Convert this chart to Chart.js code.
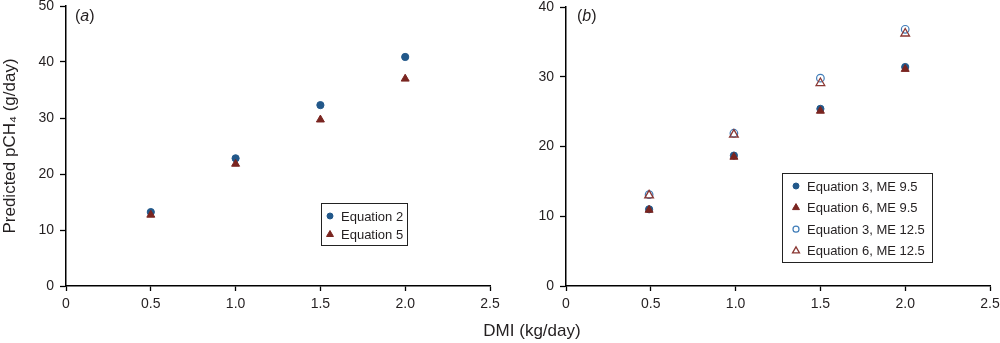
<!DOCTYPE html>
<html>
<head>
<meta charset="utf-8">
<script src="https://cdn.jsdelivr.net/npm/chart.js@4/dist/chart.umd.min.js"></script>
<style>
  body { margin: 0; background: #fff; }
  #wrap { position: relative; width: 1000px; height: 343px; font-family: "Liberation Sans", Arial, sans-serif; color: #231f20; }
  canvas { position: absolute; top: 0; }
  .lbl { position: absolute; font-size: 16px; }
  #xtitle { position: absolute; left: 0; width: 1064px; top: 321px; text-align: center; font-size: 17px; }
</style>
</head>
<body>
<div id="wrap">
  <canvas id="chartA" width="500" height="343" style="left:0"></canvas>
  <canvas id="chartB" width="500" height="343" style="left:500px"></canvas>
  <div class="lbl" style="left:75px; top:7px">(<i>a</i>)</div>
  <div class="lbl" style="left:577px; top:7px">(<i>b</i>)</div>
  <div id="xtitle">DMI (kg/day)</div>
</div>
<script>
// x values (DMI, kg/day)
var dmiA = [0.5, 1.0, 1.5, 2.0];
var dmiB = [0.49, 0.99, 1.5, 2.0];

// panel (a)
var eq2 = [13.2, 22.8, 32.3, 40.9];
var eq5 = [12.7, 21.8, 29.7, 37.0];

// panel (b)
var eq3Me95 = [11.0, 18.7, 25.4, 31.4];
var eq6Me95 = [10.9, 18.5, 25.1, 31.1];
var eq3Me125 = [13.1, 21.9, 29.8, 36.8];
var eq6Me125 = [13.0, 21.7, 29.1, 36.2];

// ticks
var xTickValues = [0, 0.5, 1.0, 1.5, 2.0, 2.5];
var xTickLabels = ["0", "0.5", "1.0", "1.5", "2.0", "2.5"];
var yTickValuesA = [0, 10, 20, 30, 40, 50];
var yTickLabelsA = ["0", "10", "20", "30", "40", "50"];
var yTickValuesB = [0, 10, 20, 30, 40];
var yTickLabelsB = ["0", "10", "20", "30", "40"];

var BLUE = "#22588a";
var RED = "#7a2520";
var BLUE_OPEN = "#3f7cb8";
var RED_OPEN = "#8a3733";
var TEXT = "#231f20";
var FONT = "'Liberation Sans', Arial, sans-serif";

function pts(xs, ys) {
    var out = [];
    for (var i = 0; i < ys.length; i++) {
        out.push({x: xs[i], y: ys[i]});
    }
    return out;
}

// legend box drawn inside the plot area
var boxLegend = {
    id: "boxLegend",
    afterDraw: function(chart, args, opts) {
        var ctx = chart.ctx;
        ctx.save();
        ctx.strokeStyle = "#222";
        ctx.lineWidth = 1;
        ctx.strokeRect(opts.left + 0.5, opts.top + 0.5, opts.width, opts.height);
        ctx.font = "13px " + FONT;
        ctx.textBaseline = "middle";
        ctx.textAlign = "left";
        chart.data.datasets.forEach(function(ds, i) {
            var y = opts.top + opts.firstRow + i * opts.rowH;
            ctx.fillStyle = ds.backgroundColor;
            ctx.strokeStyle = ds.borderColor;
            ctx.lineWidth = ds.borderWidth;
            var r = ds.pointStyle === "triangle" ? 4 : 3;
            Chart.helpers.drawPoint(ctx, {pointStyle: ds.pointStyle, radius: r, rotation: 0, borderWidth: ds.borderWidth}, opts.left + opts.markerX, y);
            ctx.fillStyle = TEXT;
            ctx.fillText(ds.label, opts.left + opts.textX, y + 1);
        });
        ctx.restore();
    }
};

function makeOptions(yVals, yLabels, yMax, topPad, yTitle, legendPos) {
    return {
        responsive: false,
        animation: false,
        layout: {padding: {top: topPad, right: 10, left: 0, bottom: 0}},
        plugins: {
            legend: {display: false},
            tooltip: {enabled: false},
            boxLegend: legendPos
        },
        scales: {
            x: {
                type: "linear",
                min: 0,
                max: 2.5,
                afterBuildTicks: function(scale) {
                    scale.ticks = xTickValues.map(function(v) { return {value: v}; });
                },
                afterFit: function(scale) {
                    scale.height = 343 - 286;
                    scale.paddingLeft = 0;
                    scale.paddingRight = 0;
                },
                border: {color: "#000", width: 1.5},
                grid: {drawOnChartArea: false, tickLength: 5, tickColor: "#000", tickWidth: 1.3},
                ticks: {
                    color: TEXT,
                    font: {size: 14, family: FONT},
                    padding: 5,
                    maxRotation: 0,
                    callback: function(v, i) { return xTickLabels[i]; }
                }
            },
            y: {
                type: "linear",
                min: 0,
                max: yMax,
                afterBuildTicks: function(scale) {
                    scale.ticks = yVals.map(function(v) { return {value: v}; });
                },
                afterFit: function(scale) {
                    scale.width = 66;
                    scale.paddingTop = 0;
                    scale.paddingBottom = 0;
                },
                border: {color: "#000", width: 1.5},
                grid: {drawOnChartArea: false, tickLength: 6, tickColor: "#000", tickWidth: 1.3},
                ticks: {
                    color: TEXT,
                    font: {size: 14, family: FONT},
                    padding: 6,
                    callback: function(v, i) { return yLabels[i]; }
                },
                title: {
                    display: yTitle !== "",
                    text: yTitle,
                    color: TEXT,
                    font: {size: 17, family: FONT},
                    padding: {top: 0, bottom: 0}
                }
            }
        }
    };
}

new Chart(document.getElementById("chartA"), {
    type: "scatter",
    data: {
        datasets: [
            {label: "Equation 2", data: pts(dmiA, eq2), pointStyle: "circle", pointRadius: 3.6,
             backgroundColor: BLUE, borderColor: BLUE, borderWidth: 1, order: 2},
            {label: "Equation 5", data: pts(dmiA, eq5), pointStyle: "triangle", pointRadius: 4.6,
             backgroundColor: RED, borderColor: RED, borderWidth: 1, order: 1}
        ]
    },
    plugins: [boxLegend],
    options: makeOptions(yTickValuesA, yTickLabelsA, 50, 6, "Predicted pCH\u2084 (g/day)",
        {left: 321, top: 203, width: 86, height: 42, firstRow: 13, rowH: 18.5, markerX: 9, textX: 20})
});

new Chart(document.getElementById("chartB"), {
    type: "scatter",
    data: {
        datasets: [
            {label: "Equation 3, ME 9.5", data: pts(dmiB, eq3Me95), pointStyle: "circle", pointRadius: 3.6,
             backgroundColor: BLUE, borderColor: BLUE, borderWidth: 1, order: 4},
            {label: "Equation 6, ME 9.5", data: pts(dmiB, eq6Me95), pointStyle: "triangle", pointRadius: 4.6,
             backgroundColor: RED, borderColor: RED, borderWidth: 1, order: 3},
            {label: "Equation 3, ME 12.5", data: pts(dmiB, eq3Me125), pointStyle: "circle", pointRadius: 3.8,
             backgroundColor: "rgba(255,255,255,0)", borderColor: BLUE_OPEN, borderWidth: 1.2, order: 2},
            {label: "Equation 6, ME 12.5", data: pts(dmiB, eq6Me125), pointStyle: "triangle", pointRadius: 5,
             backgroundColor: "rgba(255,255,255,0)", borderColor: RED_OPEN, borderWidth: 1.3, order: 1}
        ]
    },
    plugins: [boxLegend],
    options: makeOptions(yTickValuesB, yTickLabelsB, 40, 7, "",
        {left: 282, top: 173, width: 150, height: 89, firstRow: 13, rowH: 21.6, markerX: 14, textX: 25})
});
</script>
</body>
</html>
